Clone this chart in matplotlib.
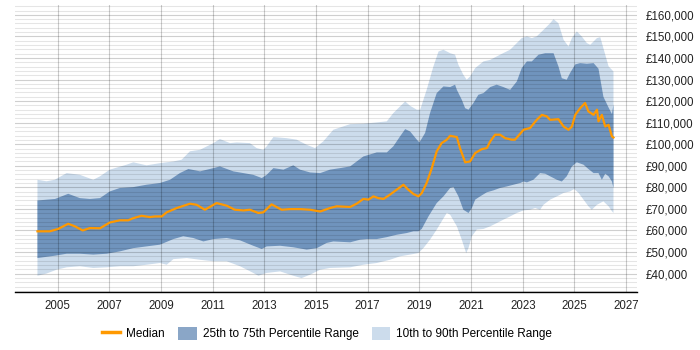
import matplotlib.pyplot as plt
from matplotlib.lines import Line2D
from matplotlib.patches import Patch
from matplotlib.ticker import FuncFormatter, MultipleLocator
import numpy as np

plt.rcParams["font.family"] = ["Liberation Sans", "DejaVu Sans"]

# Percentile curves (year, salary in GBP)
p90_years = [2004.22, 2004.57, 2004.89, 2005.35, 2005.86, 2006.38, 2006.64, 2007.02, 2007.67, 2007.93,
             2008.44, 2008.96, 2009.48, 2009.80, 2010.12, 2010.51, 2011.03, 2011.28, 2011.67, 2011.93,
             2012.44, 2012.70, 2012.96, 2013.09, 2013.35, 2013.86, 2014.25, 2014.64, 2014.96, 2015.28,
             2015.67, 2016.32, 2016.83, 2017.35, 2017.74, 2017.99, 2018.25, 2018.45, 2018.64, 2018.90,
             2019.03, 2019.28, 2019.54, 2019.74, 2019.93, 2020.19, 2020.38, 2020.51, 2020.70, 2020.83,
             2020.96, 2021.16, 2021.48, 2021.74, 2022.12, 2022.51, 2022.77, 2022.96, 2023.16, 2023.35,
             2023.54, 2023.80, 2024.06, 2024.19, 2024.38, 2024.58, 2024.77, 2024.90, 2025.09, 2025.28,
             2025.48, 2025.61, 2025.87, 2026.00, 2026.12, 2026.32, 2026.45, 2026.51]
p90_values = [83500, 82800, 83500, 86600, 85800, 83500, 85100, 88200, 90500, 91600,
              90200, 91200, 92000, 92800, 96700, 97400, 100500, 102400, 100500, 100800,
              100500, 98200, 97400, 99000, 103300, 102800, 102100, 99700, 98200, 101300,
              106700, 109300, 109500, 110100, 110600, 114400, 117500, 119800, 117800, 116000,
              116000, 125200, 136000, 143000, 143800, 142200, 141500, 136800, 132200, 129900,
              131400, 135300, 138400, 139100, 141500, 143800, 146900, 149200, 150000, 149200,
              150000, 153000, 156100, 158000, 156100, 148400, 145300, 149200, 152300, 150000,
              146900, 146100, 149200, 149600, 144500, 136100, 134500, 133700]

p75_years = [2004.22, 2004.90, 2005.41, 2005.86, 2006.25, 2006.64, 2007.02, 2007.41, 2007.93, 2008.44,
             2008.96, 2009.35, 2009.73, 2010.06, 2010.51, 2011.03, 2011.28, 2011.80, 2012.19, 2012.57,
             2012.90, 2013.09, 2013.35, 2013.74, 2014.12, 2014.38, 2014.77, 2015.16, 2015.54, 2015.93,
             2016.32, 2016.83, 2017.35, 2017.74, 2017.99, 2018.25, 2018.45, 2018.64, 2018.90, 2019.00,
             2019.22, 2019.41, 2019.67, 2019.93, 2020.19, 2020.38, 2020.45, 2020.64, 2020.77, 2020.90,
             2021.09, 2021.28, 2021.48, 2021.74, 2021.99, 2022.25, 2022.51, 2022.77, 2022.96, 2023.16,
             2023.35, 2023.61, 2023.87, 2024.19, 2024.38, 2024.51, 2024.70, 2024.83, 2025.03, 2025.22,
             2025.48, 2025.74, 2025.93, 2026.12, 2026.32, 2026.45, 2026.51]
p75_values = [73900, 74600, 77000, 75000, 74600, 75000, 78100, 79700, 80100, 81200,
              82000, 83500, 86600, 88500, 87400, 88900, 89700, 87400, 86600, 85800,
              84300, 85800, 88900, 88200, 90200, 88200, 86900, 86600, 88200, 88900,
              89700, 94300, 96200, 96200, 99000, 103600, 107000, 105900, 102100, 100800,
              105200, 114400, 123700, 126800, 126500, 127600, 125200, 120600, 116700, 116000,
              119100, 122900, 123700, 126500, 127600, 126500, 125200, 129100, 135300, 138400,
              138400, 141500, 142200, 142200, 136100, 130600, 129900, 133000, 137000, 137600,
              137300, 137600, 135000, 122000, 117000, 114000, 118500]

median_years = [2004.22, 2004.70, 2005.02, 2005.41, 2005.67, 2005.97, 2006.25, 2006.64, 2007.02, 2007.41,
                2007.73, 2007.93, 2008.25, 2008.57, 2008.77, 2009.03, 2009.22, 2009.61, 2010.12, 2010.38,
                2010.70, 2011.15, 2011.54, 2011.86, 2012.19, 2012.44, 2012.77, 2012.96, 2013.28, 2013.67,
                2013.99, 2014.38, 2014.77, 2015.16, 2015.54, 2015.80, 2016.32, 2016.57, 2016.83, 2017.03,
                2017.22, 2017.41, 2017.61, 2017.86, 2018.12, 2018.38, 2018.57, 2018.77, 2018.96, 2019.09,
                2019.28, 2019.48, 2019.67, 2019.86, 2020.06, 2020.19, 2020.32, 2020.45, 2020.57, 2020.77,
                2020.96, 2021.16, 2021.41, 2021.61, 2021.74, 2021.93, 2022.12, 2022.32, 2022.57, 2022.70,
                2022.83, 2023.03, 2023.28, 2023.54, 2023.74, 2023.93, 2024.06, 2024.38, 2024.58, 2024.77,
                2024.90, 2025.03, 2025.22, 2025.41, 2025.54, 2025.74, 2025.87, 2025.93, 2026.06, 2026.19,
                2026.32, 2026.45, 2026.51]
median_values = [59600, 59600, 60700, 63100, 61900, 60000, 61100, 61000, 63700, 64700,
                 64700, 65700, 66800, 66200, 66500, 66500, 68400, 70400, 72400, 71900,
                 69600, 72700, 71500, 69600, 69300, 69600, 68100, 68400, 72100, 69600,
                 69900, 69900, 69600, 68800, 70400, 71200, 70900, 72400, 74600, 74300,
                 75800, 75000, 74600, 76600, 78900, 81200, 78900, 76900, 75800, 77300,
                 82000, 88900, 96700, 100500, 102100, 103900, 103600, 103300, 98200, 91600,
                 92000, 95900, 97700, 98200, 101300, 104400, 104400, 102800, 102100, 102100,
                 103900, 106700, 107500, 111300, 113600, 112900, 111300, 111600, 108200, 106700,
                 108200, 113600, 116700, 119100, 115200, 113600, 116000, 110600, 113600, 108200,
                 109000, 103600, 103100]

p25_years = [2004.22, 2004.90, 2005.35, 2005.86, 2006.38, 2006.90, 2007.41, 2007.93, 2008.44, 2008.96,
             2009.48, 2009.86, 2010.25, 2010.64, 2011.03, 2011.54, 2012.06, 2012.57, 2012.90, 2013.09,
             2013.61, 2014.12, 2014.64, 2015.03, 2015.41, 2015.67, 2016.32, 2016.70, 2016.96, 2017.35,
             2017.74, 2018.12, 2018.51, 2018.77, 2018.96, 2019.09, 2019.35, 2019.67, 2019.93, 2020.19,
             2020.32, 2020.51, 2020.70, 2020.90, 2021.03, 2021.16, 2021.35, 2021.61, 2021.87, 2022.12,
             2022.38, 2022.64, 2022.90, 2023.03, 2023.16, 2023.41, 2023.67, 2023.87, 2024.06, 2024.32,
             2024.51, 2024.70, 2024.90, 2025.09, 2025.35, 2025.54, 2025.74, 2025.93, 2026.06, 2026.19,
             2026.32, 2026.45, 2026.51]
p25_values = [47200, 48300, 49200, 49200, 48800, 49200, 50300, 51800, 52600, 53400,
              56000, 57300, 56500, 54900, 56000, 56500, 55400, 52900, 51400, 52600,
              52900, 52200, 51100, 51800, 54200, 54900, 54500, 55700, 56000, 56000,
              56900, 58000, 58800, 59600, 59600, 60700, 66500, 72700, 75800, 79700,
              80100, 75800, 69600, 68100, 70400, 74300, 75800, 77700, 78600, 79700,
              80400, 81200, 82000, 82700, 82300, 83500, 86600, 86300, 85100, 83500,
              82700, 85100, 89700, 91600, 90500, 88500, 86600, 86600, 83500, 86300,
              85100, 82700, 79700]

p10_years = [2004.22, 2004.57, 2004.96, 2005.35, 2005.86, 2006.38, 2006.90, 2007.41, 2007.93, 2008.44,
             2008.96, 2009.22, 2009.48, 2010.00, 2010.51, 2011.03, 2011.54, 2012.06, 2012.57, 2012.77,
             2013.09, 2013.61, 2014.12, 2014.44, 2014.77, 2015.16, 2015.54, 2016.32, 2016.83, 2017.35,
             2017.86, 2018.25, 2018.64, 2018.96, 2019.16, 2019.41, 2019.67, 2019.86, 2020.06, 2020.19,
             2020.45, 2020.64, 2020.81, 2020.90, 2021.03, 2021.22, 2021.48, 2021.74, 2021.99, 2022.25,
             2022.51, 2022.77, 2023.03, 2023.28, 2023.48, 2023.67, 2023.80, 2024.06, 2024.32, 2024.58,
             2024.83, 2024.99, 2025.16, 2025.35, 2025.54, 2025.67, 2025.87, 2026.12, 2026.32, 2026.45,
             2026.51]
p10_values = [39000, 40000, 41800, 42900, 43400, 42600, 42900, 43400, 43400, 44100,
              44900, 44100, 46700, 47200, 46400, 45700, 45700, 43400, 40300, 39000,
              40300, 41000, 39000, 37900, 39500, 41800, 42600, 42900, 44100, 44900,
              46400, 48000, 48800, 49500, 51900, 55700, 60400, 64200, 68100, 67300,
              61900, 55700, 49500, 51900, 57300, 60400, 60700, 61900, 63400, 65000,
              66500, 68100, 69300, 69600, 70400, 69600, 71900, 74300, 75800, 77400,
              78100, 79200, 77400, 74300, 71200, 69600, 71900, 73500, 71200, 68900,
              68100]

year_ticks = list(range(2005, 2028, 2))

DARK = "#7094bd"
LIGHT = "#ccdcec"
ORANGE = "#ff9900"


def band(ax, upper_x, upper_y, lower_x, lower_y, color):
    xs = np.concatenate([upper_x, lower_x[::-1]])
    ys = np.concatenate([upper_y, lower_y[::-1]])
    ax.fill(xs, ys, color=color, lw=0)


fig = plt.figure(figsize=(7, 3.5), dpi=100)
ax = fig.add_axes([0.0214, 0.166, 0.8886, 0.82])

band(ax, np.array(p90_years), np.array(p90_values), np.array(p10_years), np.array(p10_values), LIGHT)
band(ax, np.array(p75_years), np.array(p75_values), np.array(p25_years), np.array(p25_values), DARK)
ax.plot(median_years, median_values, color=ORANGE, lw=1.6, solid_joinstyle="round", zorder=3)

ax.set_xlim(2003.35, 2027.42)
ax.set_ylim(31500, 164600)
ax.set_xticks(year_ticks)
ax.set_xticklabels([str(y) for y in year_ticks])
ax.yaxis.set_major_locator(MultipleLocator(10000))
ax.yaxis.set_minor_locator(MultipleLocator(2000))
ax.yaxis.set_major_formatter(FuncFormatter(lambda v, _: f"£{v:,.0f}" if v >= 40000 else ""))
ax.yaxis.tick_right()

ax.set_axisbelow(False)
ax.grid(axis="x", which="major", color="black", alpha=0.2, lw=0.8, zorder=2)
ax.grid(axis="y", which="major", color="black", alpha=0.19, lw=0.8, zorder=2)
ax.grid(axis="y", which="minor", color="black", alpha=0.1, lw=0.8, zorder=2)

for side in ["top", "right", "left"]:
    ax.spines[side].set_visible(False)
ax.spines["bottom"].set_color("black")
ax.spines["bottom"].set_linewidth(1.0)
ax.tick_params(axis="both", which="both", length=0, labelsize=8.3, labelcolor="#222222")
ax.tick_params(axis="y", pad=6)
ax.tick_params(axis="x", pad=6)

handles = [
    Line2D([0], [0], color=ORANGE, lw=2.5),
    Patch(facecolor="#8aa6c7", edgecolor="none"),
    Patch(facecolor=LIGHT, edgecolor="none"),
]
labels = ["Median", "25th to 75th Percentile Range", "10th to 90th Percentile Range"]
fig.legend(handles, labels, loc="center", bbox_to_anchor=(0.467, 0.047), ncol=3,
           frameon=False, fontsize=8.5, handlelength=1.6, handleheight=1.4,
           columnspacing=1.1, handletextpad=0.5)

fig.savefig("out.png", dpi=100)
